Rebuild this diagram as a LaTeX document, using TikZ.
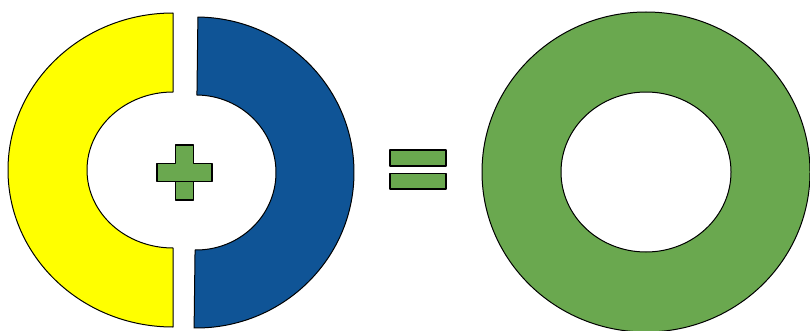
\documentclass[tikz,border=0pt]{standalone}
\usetikzlibrary{calc}
\definecolor{ringyellow}{HTML}{FFFF00}
\definecolor{ringblue}{HTML}{0F5496}
\definecolor{ringgreen}{HTML}{6AA84F}

\begin{document}
\begin{tikzpicture}[line width=1pt, line join=round, x=1pt, y=1pt,
    sign/.style={fill=ringgreen, draw=black, line width=1.6pt}]
  \useasboundingbox (0,0) rectangle (810,330);
  % left half
  \filldraw[fill=ringyellow]
    (173,317) arc[start angle=90, end angle=270, x radius=165, y radius=157]
    -- (173,82) arc[start angle=270, end angle=90, x radius=86, y radius=78] -- cycle;
  % right half
  \filldraw[fill=ringblue, rotate around={-0.7:(196,157.5)}]
    (196,2) arc[start angle=-90, end angle=90, x radius=158, y radius=155.5]
    -- (196,235) arc[start angle=90, end angle=-90, x radius=80, y radius=77.5] -- cycle;
  % plus
  \filldraw[sign]
    (175.5,148.5) -- (193.5,148.5) -- (193.5,130) -- (175.5,130) -- (175.5,148.5) -- (157,148.5)
    -- (157,166.5) -- (175.5,166.5) -- (175.5,185) -- (193.5,185) -- (193.5,166.5)
    -- (212,166.5) -- (212,148.5) -- cycle;
  % equals
  \foreach \yb in {141,164.3} { \filldraw[sign] (390,\yb) rectangle (445.7,\yb+15.7); }
  % whole ring
  \filldraw[fill=ringgreen, even odd rule]
    (646,158) ellipse[x radius=164, y radius=160]
    (646,158) ellipse[x radius=85, y radius=80];
\end{tikzpicture}
\end{document}
